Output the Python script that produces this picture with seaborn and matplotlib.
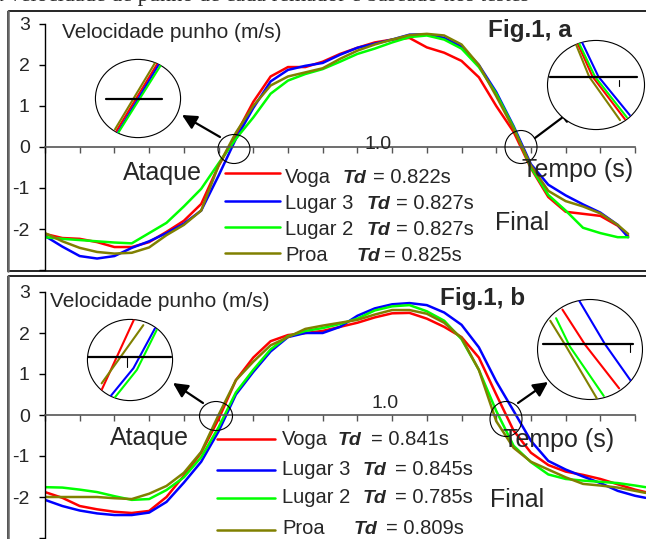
import numpy as np
import pandas as pd
import matplotlib
matplotlib.use("Agg")
import matplotlib.pyplot as plt
from matplotlib.patches import Ellipse, Rectangle
import seaborn as sns

sns.set_theme(style="white")
plt.rcParams["font.family"] = ["Liberation Sans", "DejaVu Sans"]

# ---------------- data ----------------
series = ["Voga", "Lugar 3", "Lugar 2", "Proa"]
colors = {"Voga": "#FF0000", "Lugar 3": "#0000FF", "Lugar 2": "#00FF00", "Proa": "#808000"}

# Fig.1 a
t_a = [0.00, 0.05, 0.10, 0.15, 0.20, 0.25, 0.30, 0.35, 0.40, 0.45, 0.50, 0.55,
       0.60, 0.65, 0.70, 0.75, 0.80, 0.85, 0.90, 0.95, 1.00, 1.05, 1.10, 1.15,
       1.20, 1.25, 1.30, 1.35, 1.40, 1.45, 1.50, 1.55, 1.60, 1.65, 1.68]
voga_a = [-2.12, -2.22, -2.24, -2.32, -2.44, -2.44, -2.32, -2.07, -1.80, -1.39, -0.46, 0.30,
          1.10, 1.72, 1.95, 1.95, 2.08, 2.27, 2.42, 2.55, 2.62, 2.66, 2.43, 2.30,
          2.10, 1.70, 1.00, 0.37, -0.52, -1.22, -1.58, -1.63, -1.68, -1.92, -2.17]
lugar3_a = [-2.17, -2.43, -2.66, -2.72, -2.66, -2.46, -2.30, -2.10, -1.87, -1.55, -0.70, 0.20,
            0.95, 1.60, 1.88, 1.98, 2.05, 2.25, 2.42, 2.52, 2.62, 2.74, 2.75, 2.66,
            2.45, 2.00, 1.34, 0.51, -0.42, -0.92, -1.18, -1.40, -1.60, -1.90, -2.20]
lugar2_a = [-2.20, -2.24, -2.27, -2.30, -2.33, -2.35, -2.10, -1.85, -1.45, -1.02, -0.40, 0.20,
            0.72, 1.30, 1.62, 1.78, 1.90, 2.08, 2.27, 2.40, 2.55, 2.68, 2.72, 2.62,
            2.40, 1.95, 1.30, 0.48, -0.50, -1.17, -1.55, -1.97, -2.10, -2.20, -2.20]
proa_a = [-2.10, -2.30, -2.46, -2.56, -2.60, -2.58, -2.45, -2.15, -1.90, -1.55, -0.45, 0.35,
          1.00, 1.50, 1.72, 1.82, 1.92, 2.15, 2.35, 2.50, 2.62, 2.73, 2.76, 2.72,
          2.50, 2.00, 1.24, 0.44, -0.45, -1.07, -1.32, -1.45, -1.62, -1.90, -2.12]
td_a = ["0.822s", "0.827s", "0.827s", "0.825s"]

# Fig.1 b
t_b = [0.00, 0.05, 0.10, 0.15, 0.20, 0.25, 0.30, 0.35, 0.40, 0.45, 0.50, 0.55,
       0.60, 0.65, 0.70, 0.75, 0.80, 0.85, 0.90, 0.95, 1.00, 1.05, 1.10, 1.15,
       1.20, 1.25, 1.30, 1.35, 1.40, 1.45, 1.50, 1.55, 1.60, 1.65, 1.70, 1.73]
voga_b = [-1.88, -2.02, -2.22, -2.30, -2.36, -2.39, -2.34, -2.00, -1.48, -0.92, -0.10, 0.85,
          1.40, 1.80, 1.95, 2.00, 2.05, 2.15, 2.25, 2.38, 2.48, 2.49, 2.35, 2.15,
          1.90, 1.40, 0.50, -0.38, -0.92, -1.22, -1.38, -1.46, -1.56, -1.69, -1.82, -1.88]
lugar3_b = [-2.07, -2.22, -2.33, -2.40, -2.44, -2.44, -2.38, -2.12, -1.65, -1.14, -0.40, 0.50,
            1.05, 1.55, 1.90, 2.00, 2.00, 2.15, 2.42, 2.60, 2.70, 2.73, 2.68, 2.50,
            2.20, 1.65, 0.82, 0.10, -0.63, -1.12, -1.33, -1.50, -1.66, -1.85, -1.97, -2.02]
lugar2_b = [-1.76, -1.77, -1.82, -1.88, -1.98, -2.07, -2.05, -1.83, -1.52, -1.03, -0.30, 0.55,
            1.10, 1.60, 1.92, 2.05, 2.12, 2.22, 2.35, 2.55, 2.65, 2.68, 2.53, 2.30,
            1.85, 1.10, 0.10, -0.75, -1.15, -1.45, -1.56, -1.60, -1.63, -1.66, -1.72, -1.76]
proa_b = [-2.00, -2.00, -2.00, -2.00, -2.03, -2.05, -1.92, -1.73, -1.41, -0.90, 0.00, 0.85,
          1.30, 1.70, 1.90, 2.10, 2.18, 2.25, 2.32, 2.45, 2.56, 2.56, 2.47, 2.25,
          1.88, 1.10, -0.15, -0.80, -1.14, -1.33, -1.52, -1.68, -1.72, -1.77, -1.85, -1.90]
td_b = ["0.841s", "0.845s", "0.785s", "0.809s"]

yticks = [-3, -2, -1, 0, 1, 2, 3]
ytick_labels = ["", "-2", "-1", "0", "1", "2", "3"]
xticks = [round(0.1 * i, 1) for i in range(18)]

# magnified views (normalised inset coordinates)
zoom_a_left = {
    "Voga": ([-0.50, 0.46], [-0.82, 0.90]),
    "Lugar 3": ([-0.48, 0.50], [-0.88, 0.89]),
    "Lugar 2": ([-0.46, 0.54], [-0.87, 0.86]),
    "Proa": ([-0.535, 0.40], [-0.78, 0.91]),
}
zoom_a_right = {
    "Voga": ([-0.39, -0.07, 0.59], [0.96, 0.185, -0.76]),
    "Lugar 3": ([-0.29, 0.05, 0.69], [0.96, 0.185, -0.67]),
    "Lugar 2": ([-0.36, -0.02, 0.63], [0.96, 0.185, -0.72]),
    "Proa": ([-0.43, -0.14, 0.49], [0.96, 0.185, -0.78]),
}
zoom_b_left = {
    "Voga": ([-0.66, 0.09], [-0.73, 0.98]),
    "Lugar 3": ([-0.45, 0.08, 0.58], [-0.88, -0.20, 0.77]),
    "Lugar 2": ([-0.35, 0.16, 0.62], [-0.91, -0.24, 0.73]),
    "Proa": ([-0.66, 0.31], [-0.57, 0.85]),
}
zoom_b_right = {
    "Voga": ([-0.52, -0.09, 0.55], [0.79, 0.09, -0.77]),
    "Lugar 3": ([-0.20, 0.28, 0.77], [0.96, 0.11, -0.62]),
    "Lugar 2": ([-0.64, -0.38, 0.26], [0.62, 0.06, -0.92]),
    "Proa": ([-0.75, -0.45, 0.13], [0.57, 0.06, -0.97]),
}

# ---------------- figure ----------------
W, H = 646, 539
PX_PER_S = 347.1
fig = plt.figure(figsize=(W / 100, H / 100), dpi=100)
fig.patch.set_facecolor("white")


def px_axes(x0, y0, x1, y1, z=1):
    return fig.add_axes([x0 / W, 1 - y1 / H, (x1 - x0) / W, (y1 - y0) / H], zorder=z)


def long_df(t, vals):
    rows = []
    for name, v in zip(series, vals):
        for ti, vi in zip(t, v):
            rows.append((ti, vi, name))
    return pd.DataFrame(rows, columns=["t", "v", "serie"])


def main_panel(top_px, bottom_px, t, vals):
    ax = px_axes(45, top_px, W, bottom_px)
    ax.patch.set_alpha(0)
    sns.lineplot(data=long_df(t, vals), x="t", y="v", hue="serie", hue_order=series,
                 palette=colors, estimator=None, legend=False, linewidth=1.8, ax=ax)
    ax.set_xlim(0, (W - 45) / PX_PER_S)
    ax.set_ylim(-3, 3)
    for s in ["top", "right"]:
        ax.spines[s].set_visible(False)
    ax.spines["left"].set_bounds(-3, 3)
    ax.spines["left"].set_color("black")
    ax.spines["left"].set_linewidth(1.0)
    ax.spines["bottom"].set_position(("data", 0))
    ax.spines["bottom"].set_bounds(0, 1.7)
    ax.spines["bottom"].set_color("#555555")
    ax.spines["bottom"].set_linewidth(1.2)
    ax.set_xticks(xticks)
    ax.set_xticklabels([])
    ax.tick_params(axis="x", direction="out", length=4, width=1.0, color="#555555",
                   labelbottom=False, bottom=True)
    ax.set_yticks(yticks)
    ax.set_yticklabels(ytick_labels)
    ax.tick_params(axis="y", direction="out", length=4, width=1.0, color="black",
                   labelsize=14, pad=7, left=True)
    ax.set_xlabel("")
    ax.set_ylabel("")
    return ax


ax_a = main_panel(24, 270, t_a, [voga_a, lugar3_a, lugar2_a, proa_a])
ax_b = main_panel(292, 538, t_b, [voga_b, lugar3_b, lugar2_b, proa_b])

# overlay in pixel coordinates for frames, notes and legend
ov = fig.add_axes([0, 0, 1, 1], zorder=5)
ov.set_xlim(0, W)
ov.set_ylim(H, 0)
ov.axis("off")
ov.patch.set_alpha(0)

# panel frames
ov.add_patch(Rectangle((8, 11), 660, 260, fill=False, ec="black", lw=1.2))
ov.add_patch(Rectangle((8, 276), 660, 280, fill=False, ec="black", lw=1.2))
ov.plot([8, 8], [11, 271], color="#666666", lw=1.8)
ov.plot([8, 8], [276, 539], color="#666666", lw=1.8)

# text line of the page above the figure, cut by the image edge as in the scan
ov.text(-6, 1, "a velocidade de punho de cada remador e baseado nos testes",
        fontsize=16, family="Liberation Serif", va="baseline", ha="left")

big = 18
for (x, y, s) in [(62, 38.5, "Velocidade punho (m/s)"), (50, 307, "Velocidade punho (m/s)")]:
    ov.text(x, y, s, fontsize=15, va="baseline")
ov.text(488, 37, "Fig.1, a", fontsize=17.5, fontweight="bold", va="baseline")
ov.text(440, 305, "Fig.1, b", fontsize=17.5, fontweight="bold", va="baseline")
for (x, y, s) in [(123, 180, "Ataque"), (522, 177, "Tempo (s)"), (495, 230, "Final"),
                  (110, 445, "Ataque"), (503, 447, "Tempo (s)"), (490, 507, "Final")]:
    ov.text(x, y, s, fontsize=big, va="baseline")
ov.text(378, 149, "1.0", fontsize=14, va="baseline", ha="center")
ov.text(385, 408, "1.0", fontsize=14, va="baseline", ha="center")


def legend_rows(line_x, text_x, baselines, line_ys, td_x, eq_x, tds):
    for i, name in enumerate(series):
        ov.plot(line_x, [line_ys[i], line_ys[i]], color=colors[name], lw=1.8)
        ov.text(text_x, baselines[i], name, fontsize=14.5, va="baseline")
        ov.text(td_x[i], baselines[i], "Td", fontsize=14, fontweight="bold",
                fontstyle="italic", va="baseline")
        ov.text(eq_x[i], baselines[i], "= " + tds[i], fontsize=14.5, va="baseline")


legend_rows([225, 280], 285, [183, 209, 235, 261], [173, 201, 227, 253],
            [343, 367, 367, 357], [373, 396, 396, 384], td_a)
legend_rows([217, 275], 282, [445, 475, 503, 534], [439, 470, 498, 530],
            [338, 363, 363, 354], [371, 395, 395, 386], td_b)

# small circles marking the zero crossings
for (cx, cy, w, h) in [(234, 149, 32, 29), (521, 147, 32, 33), (216, 416, 33, 29), (506, 419, 32, 35)]:
    ov.add_patch(Ellipse((cx, cy), w, h, fill=False, ec="black", lw=0.8))

# arrows
for tail, tip in [((220, 137), (182, 115)), ((535, 138), (575, 108)),
                  ((203, 403), (173, 383)), ((518, 403), (548, 382))]:
    ov.annotate("", xy=tip, xytext=tail,
                arrowprops=dict(arrowstyle="-|>", color="black", lw=1.6, mutation_scale=22,
                                shrinkA=0, shrinkB=0))


def magnifier(cx, cy, hw, hh, lines, zero_x, zero_y, tick_x=None, tick_y=None):
    ax = px_axes(cx - hw, cy - hh, cx + hw, cy + hh, z=6)
    ax.set_xlim(-1, 1)
    ax.set_ylim(-1, 1)
    ax.axis("off")
    ax.patch.set_alpha(0)
    ell = Ellipse((0, 0), 1.98, 1.98, facecolor="white", edgecolor="black", lw=0.8,
                  clip_on=False, zorder=0)
    ax.add_patch(ell)
    rows = []
    for name in series:
        xs, ys = lines[name]
        for k, (xx, yy) in enumerate(zip(xs, ys)):
            rows.append((xx, yy, name, k))
    df = pd.DataFrame(rows, columns=["x", "y", "serie", "k"])
    sns.lineplot(data=df, x="x", y="y", hue="serie", hue_order=series, palette=colors,
                 estimator=None, sort=False, legend=False, linewidth=1.5, ax=ax)
    for ln in ax.lines:
        ln.set_clip_path(ell)
    ax.plot(zero_x, [zero_y, zero_y], color="black", lw=1.6)
    if tick_x is not None:
        ax.plot([tick_x, tick_x], tick_y, color="black", lw=0.8)
    ax.set_xlim(-1, 1)
    ax.set_ylim(-1, 1)
    ax.axis("off")
    return ax


magnifier(138, 98.5, 43, 39.5, zoom_a_left, [-0.74, 0.56], 0.0)
magnifier(596, 85, 49, 45, zoom_a_right, [-0.94, 0.84], 0.18, 0.47, [0.12, -0.03])
magnifier(130, 360, 43, 41, zoom_b_left, [-0.98, 0.95], 0.07, -0.07, [0.07, -0.16])
magnifier(590, 349.5, 53, 50.5, zoom_b_right, [-0.89, 0.81], 0.11, 0.75, [0.11, -0.04])

fig.savefig("out.png", dpi=100, facecolor="white")
